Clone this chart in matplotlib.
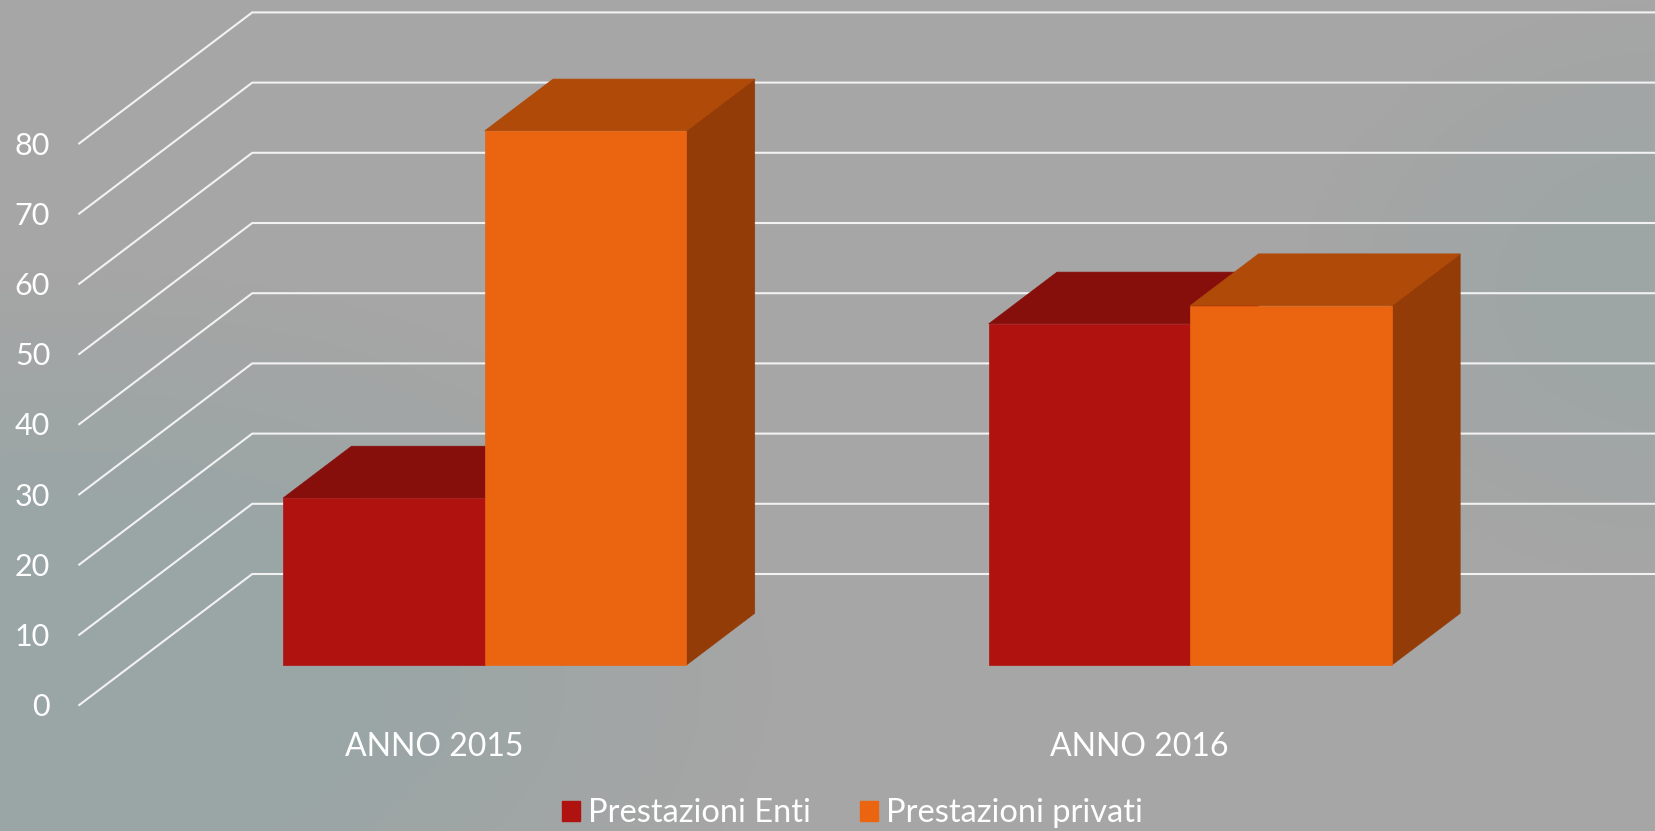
import numpy as np
import matplotlib
matplotlib.use("Agg")
import matplotlib.pyplot as plt
from matplotlib.patches import Patch
from matplotlib.colors import to_rgb

# Data
years = ["ANNO 2015", "ANNO 2016"]
enti = [23.8, 48.6]
privati = [76.1, 51.2]
y_ticks = [0, 10, 20, 30, 40, 50, 60, 70, 80]

plt.rcParams["font.family"] = ["Lato", "DejaVu Sans"]

W, H = 1655, 831
X_UNIT = 705.5   # pixels per category
Y_UNIT = 7.02    # pixels per value unit
X0, Y0 = 432, 705  # pixel of category 0, value 0

# fake 3D: depth 0 is the front of the floor, depth 1 the back wall
DX = 173 / X_UNIT
DY = 131 / Y_UNIT
BAR_FRONT, BAR_BACK = 0.305, 0.70
BAR_W = 2 / 7


def proj(x, v, d):
    return x + d * DX, v + d * DY


fig = plt.figure(figsize=(W / 100, H / 100), dpi=100)
ax = fig.add_axes([0, 0, 1, 1])
xlim = (-X0 / X_UNIT, (W - X0) / X_UNIT)
ylim = (-(H - Y0) / Y_UNIT, Y0 / Y_UNIT)

# Background with the soft teal patches
yy, xx = np.mgrid[0:H, 0:W]
base = np.array(to_rgb("#A6A6A6"))
teal = np.array(to_rgb("#9AA5A5"))
left = np.clip(1.7 * (1 - np.hypot((xx - 70) / 700, (yy - 680) / 410)), 0, 1)
right = np.clip(1.5 * (1 - np.hypot((xx - 1680) / 380, (yy - 290) / 290)), 0, 1) * 0.65
mix = np.maximum(left, right)[..., None]
ax.imshow(base * (1 - mix) + teal * mix, extent=(*xlim, ylim[0], ylim[1]),
          origin="upper", aspect="auto", zorder=0)

# Grid: slanted side wall, then the back wall
for v in y_ticks:
    xs, ys = zip(proj(-0.5, v, 0), proj(-0.5, v, 1), proj(1.5, v, 1))
    ax.plot(xs, ys, color="#F2F2F2", lw=1.5, solid_joinstyle="miter", zorder=1)
    ax.text(-0.5 - 29 / X_UNIT, v - 0.3, str(v), ha="right", va="center",
            fontsize=22, color="white")


def draw_bar(x, v, front, top, side):
    l, r = x, x + BAR_W
    f, b = BAR_FRONT, BAR_BACK
    ax.fill(*zip(proj(r, 0, f), proj(r, 0, b), proj(r, v, b), proj(r, v, f)),
            color=side, lw=0.5, zorder=2)
    ax.fill(*zip(proj(l, v, f), proj(r, v, f), proj(r, v, b), proj(l, v, b)),
            color=top, lw=0.5, zorder=2)
    ax.fill(*zip(proj(l, 0, f), proj(r, 0, f), proj(r, v, f), proj(l, v, f)),
            color=front, lw=0.5, zorder=2)


for i, year in enumerate(years):
    draw_bar(i - BAR_W, enti[i], "#B01210", "#860E0B", "#7E0D0A")
    draw_bar(i, privati[i], "#EB6410", "#B04A08", "#943C08")
    ax.text(i + 2 / X_UNIT, -(747 - Y0) / Y_UNIT, year, ha="center", va="center",
            fontsize=23, color="white")

ax.set_xlim(xlim)
ax.set_ylim(ylim)
ax.axis("off")

handles = [Patch(color="#B01210", label="Prestazioni Enti"),
           Patch(color="#EB6410", label="Prestazioni privati")]
ax.legend(handles=handles, ncol=2, frameon=False, loc="lower center",
          bbox_to_anchor=(0.5150, -0.032), fontsize=23.5, labelcolor="white",
          handlelength=0.55, handleheight=0.55, handletextpad=0.25, columnspacing=1.5)

fig.savefig("out.png", dpi=100)
